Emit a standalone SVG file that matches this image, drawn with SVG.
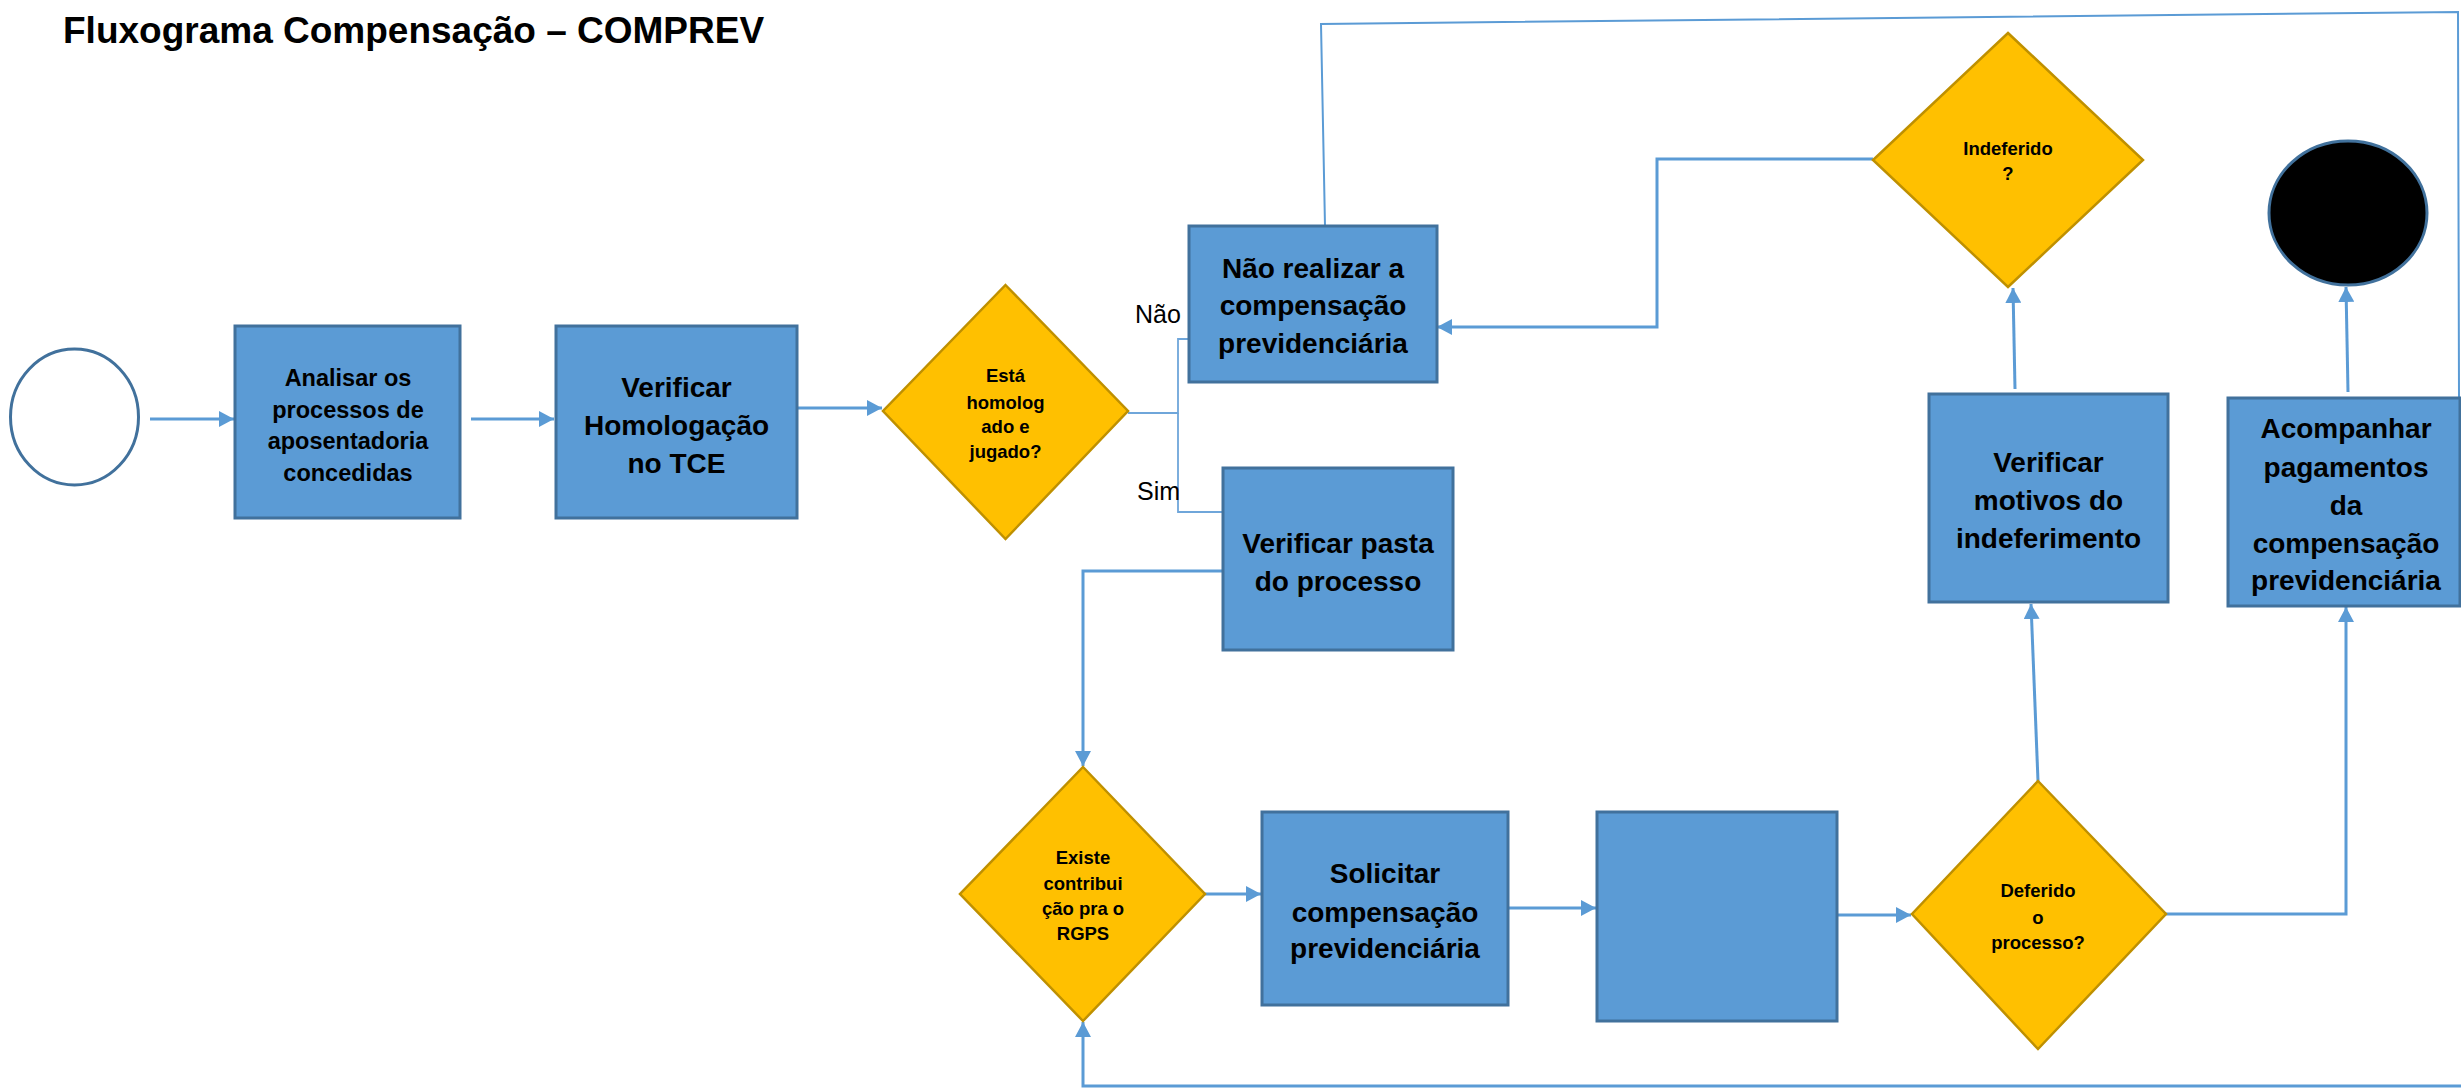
<svg xmlns="http://www.w3.org/2000/svg" width="2461" height="1088" viewBox="0 0 2461 1088">
<defs>
<style>
.box{fill:#5B9BD5;stroke:#41719C;stroke-width:3}
.dia{fill:#FFC000;stroke:#BF9000;stroke-width:2.5}
.t{font-family:"Liberation Sans",Arial,sans-serif;font-weight:bold;fill:#000;text-anchor:middle}
.bt{font-size:28px}
.st{font-size:18.5px}
.lbl{font-family:"Liberation Sans",Arial,sans-serif;font-size:25px;fill:#000}
.c{fill:none;stroke:#5B9BD5;stroke-width:3}
.thin{fill:none;stroke:#6FA6DA;stroke-width:1.8}
.loop{fill:none;stroke:#5B9BD5;stroke-width:2}
</style>
<marker id="ah" markerUnits="userSpaceOnUse" markerWidth="16" markerHeight="16" refX="15" refY="8" orient="auto">
<path d="M0,0 L15,8 L0,16 z" fill="#5B9BD5"/>
</marker>
</defs>
<rect width="2461" height="1088" fill="#fff"/>
<text x="63" y="43" style="font-family:'Liberation Sans',Arial,sans-serif;font-weight:bold;font-size:37px" fill="#000">Fluxograma Compensação – COMPREV</text>

<g id="connectors">
<line class="c" x1="150" y1="419" x2="234" y2="419" marker-end="url(#ah)"/>
<line class="c" x1="471" y1="419" x2="554" y2="419" marker-end="url(#ah)"/>
<line class="c" x1="798" y1="408" x2="882" y2="408" marker-end="url(#ah)"/>
<polyline class="thin" points="1128,413 1178,413 1178,339 1189,339"/>
<polyline class="thin" points="1178,413 1178,512 1223,512"/>
<polyline class="c" points="1873,159 1657,159 1657,327 1437,327" marker-end="url(#ah)"/>
<polyline class="c" points="1223,571 1083,571 1083,766" marker-end="url(#ah)"/>
<line class="c" x1="1205" y1="894" x2="1261" y2="894" marker-end="url(#ah)"/>
<line class="c" x1="1508" y1="908" x2="1596" y2="908" marker-end="url(#ah)"/>
<line class="c" x1="1837" y1="915" x2="1911" y2="915" marker-end="url(#ah)"/>
<line class="c" x1="2038" y1="781" x2="2031" y2="604" marker-end="url(#ah)"/>
<polyline class="c" points="2166,914 2346,914 2346,607" marker-end="url(#ah)"/>
<line class="c" x1="2015" y1="389" x2="2013" y2="288" marker-end="url(#ah)"/>
<line class="c" x1="2348" y1="392" x2="2346" y2="287" marker-end="url(#ah)"/>
<polyline class="loop" points="2459,397 2458,12 1321,24 1325,226"/>
<polyline class="c" points="2461,1086 1083,1086 1083,1022" marker-end="url(#ah)"/>
</g>

<g id="start"><ellipse cx="74.5" cy="417" rx="64" ry="68" fill="#fff" stroke="#41719C" stroke-width="3"/></g>

<g id="analisar">
<rect class="box" x="235" y="326" width="225" height="192"/>
<text class="t" style="font-size:23.5px" x="348"><tspan x="348" y="385.5">Analisar os</tspan><tspan x="348" y="417.5">processos de</tspan><tspan x="348" y="448.5">aposentadoria</tspan><tspan x="348" y="480.5">concedidas</tspan></text>
</g>

<g id="verificar-homologacao">
<rect class="box" x="556" y="326" width="241" height="192"/>
<text class="t bt"><tspan x="676.5" y="397">Verificar</tspan><tspan x="676.5" y="435">Homologação</tspan><tspan x="676.5" y="473">no TCE</tspan></text>
</g>

<g id="dec-homologado">
<polygon class="dia" points="1005.5,285 1128,411 1005.5,539 883,411"/>
<text class="t st"><tspan x="1005.5" y="381.5">Está</tspan><tspan x="1005.5" y="408.5">homolog</tspan><tspan x="1005.5" y="432.5">ado e</tspan><tspan x="1005.5" y="457.5">jugado?</tspan></text>
</g>

<g id="label-nao"><text class="lbl" x="1135" y="323">Não</text></g>
<g id="label-sim"><text class="lbl" x="1137" y="500">Sim</text></g>

<g id="nao-realizar">
<rect class="box" x="1189" y="226" width="248" height="156"/>
<text class="t bt"><tspan x="1313" y="278">Não realizar a</tspan><tspan x="1313" y="315">compensação</tspan><tspan x="1313" y="353">previdenciária</tspan></text>
</g>

<g id="verificar-pasta">
<rect class="box" x="1223" y="468" width="230" height="182"/>
<text class="t bt"><tspan x="1338" y="553">Verificar pasta</tspan><tspan x="1338" y="591">do processo</tspan></text>
</g>

<g id="dec-indeferido">
<polygon class="dia" points="2008,33 2143,160 2008,287 1873,160"/>
<text class="t st"><tspan x="2008" y="154.5">Indeferido</tspan><tspan x="2008" y="179.5">?</tspan></text>
</g>

<g id="end"><ellipse cx="2348" cy="213" rx="79" ry="72" fill="#000" stroke="#41719C" stroke-width="3"/></g>

<g id="verificar-motivos">
<rect class="box" x="1929" y="394" width="239" height="208"/>
<text class="t bt"><tspan x="2048.5" y="472">Verificar</tspan><tspan x="2048.5" y="510">motivos do</tspan><tspan x="2048.5" y="548">indeferimento</tspan></text>
</g>

<g id="acompanhar">
<rect class="box" x="2228" y="398" width="232" height="208"/>
<text class="t bt"><tspan x="2346" y="438">Acompanhar</tspan><tspan x="2346" y="477">pagamentos</tspan><tspan x="2346" y="515">da</tspan><tspan x="2346" y="553">compensação</tspan><tspan x="2346" y="590">previdenciária</tspan></text>
</g>

<g id="dec-rgps">
<polygon class="dia" points="1083,767 1205,894 1083,1021 960,894"/>
<text class="t st"><tspan x="1083" y="863.5">Existe</tspan><tspan x="1083" y="889.5">contribui</tspan><tspan x="1083" y="914.5">ção pra o</tspan><tspan x="1083" y="939.5">RGPS</tspan></text>
</g>

<g id="solicitar">
<rect class="box" x="1262" y="812" width="246" height="193"/>
<text class="t bt"><tspan x="1385" y="883">Solicitar</tspan><tspan x="1385" y="922">compensação</tspan><tspan x="1385" y="958">previdenciária</tspan></text>
</g>

<g id="blank-box">
<rect class="box" x="1597" y="812" width="240" height="209"/>
</g>

<g id="dec-deferido">
<polygon class="dia" points="2038,781 2166,914 2038,1049 1912,914"/>
<text class="t st"><tspan x="2038" y="896.5">Deferido</tspan><tspan x="2038" y="923.5">o</tspan><tspan x="2038" y="948.5">processo?</tspan></text>
</g>
</svg>
